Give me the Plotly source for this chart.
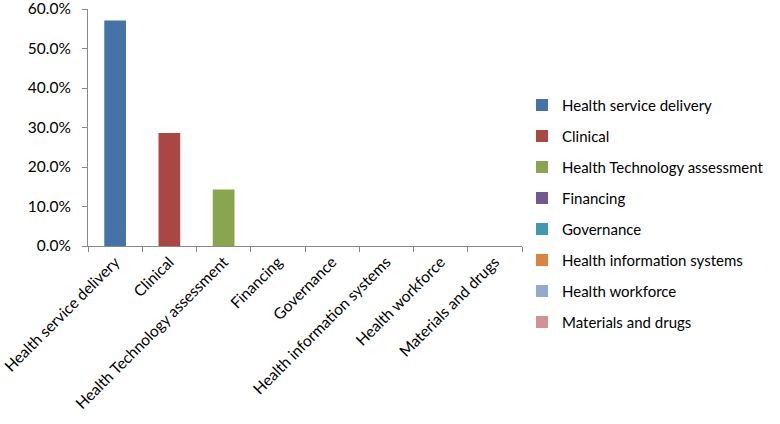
import plotly.graph_objects as go

categories = ["Health service delivery", "Clinical", "Health Technology assessment",
              "Financing", "Governance", "Health information systems",
              "Health workforce", "Materials and drugs"]
values = [0.571, 0.286, 0.143, 0.0, 0.0, 0.0, 0.0, 0.0]
colors = ["#4572A7", "#AA4643", "#89A54E", "#71588F", "#4198AF", "#DB843D", "#93A9CF", "#D19392"]
ytick_vals = [0.0, 0.1, 0.2, 0.3, 0.4, 0.5, 0.6]

FONT = "Lato, Liberation Sans, Arial, sans-serif"

fig = go.Figure()
for i, (c, v, col) in enumerate(zip(categories, values, colors)):
    fig.add_trace(go.Bar(x=[c], y=[v], name=c, marker_color=col, marker_line_width=0,
                         legendgroup=f"g{i}"))

fig.update_layout(
    width=780, height=424,
    margin=dict(l=88, r=258, t=9, b=178, autoexpand=False),
    paper_bgcolor="white", plot_bgcolor="white",
    barmode="overlay", bargap=0.6,
    font=dict(family=FONT, size=16, color="#000000"),
    showlegend=True,
    legend=dict(x=1.0, y=0.664, xanchor="left", yanchor="top",
                font=dict(family=FONT, size=15), tracegroupgap=8.5,
                itemwidth=30, bgcolor="rgba(0,0,0,0)", maxheight=400),
)
fig.update_xaxes(categoryorder="array", categoryarray=categories,
                 showline=True, linecolor="#898989", linewidth=1,
                 ticks="outside", ticklen=5, tickcolor="#898989", tickson="boundaries",
                 tickangle=-45, tickfont=dict(family=FONT, size=15.5),
                 showgrid=False, zeroline=False, automargin=False)
fig.update_yaxes(range=[0, 0.6001], tickvals=ytick_vals, tickformat=".1%",
                 showline=True, linecolor="#898989", linewidth=1,
                 ticks="outside", ticklen=5, tickcolor="#898989",
                 tickfont=dict(family=FONT, size=15.5), ticklabelstandoff=8,
                 ticklabeloverflow="allow",
                 showgrid=False, zeroline=False, automargin=False)

fig.write_html("out.html", config={"displayModeBar": False},
               post_script="document.body.style.margin='0';")
